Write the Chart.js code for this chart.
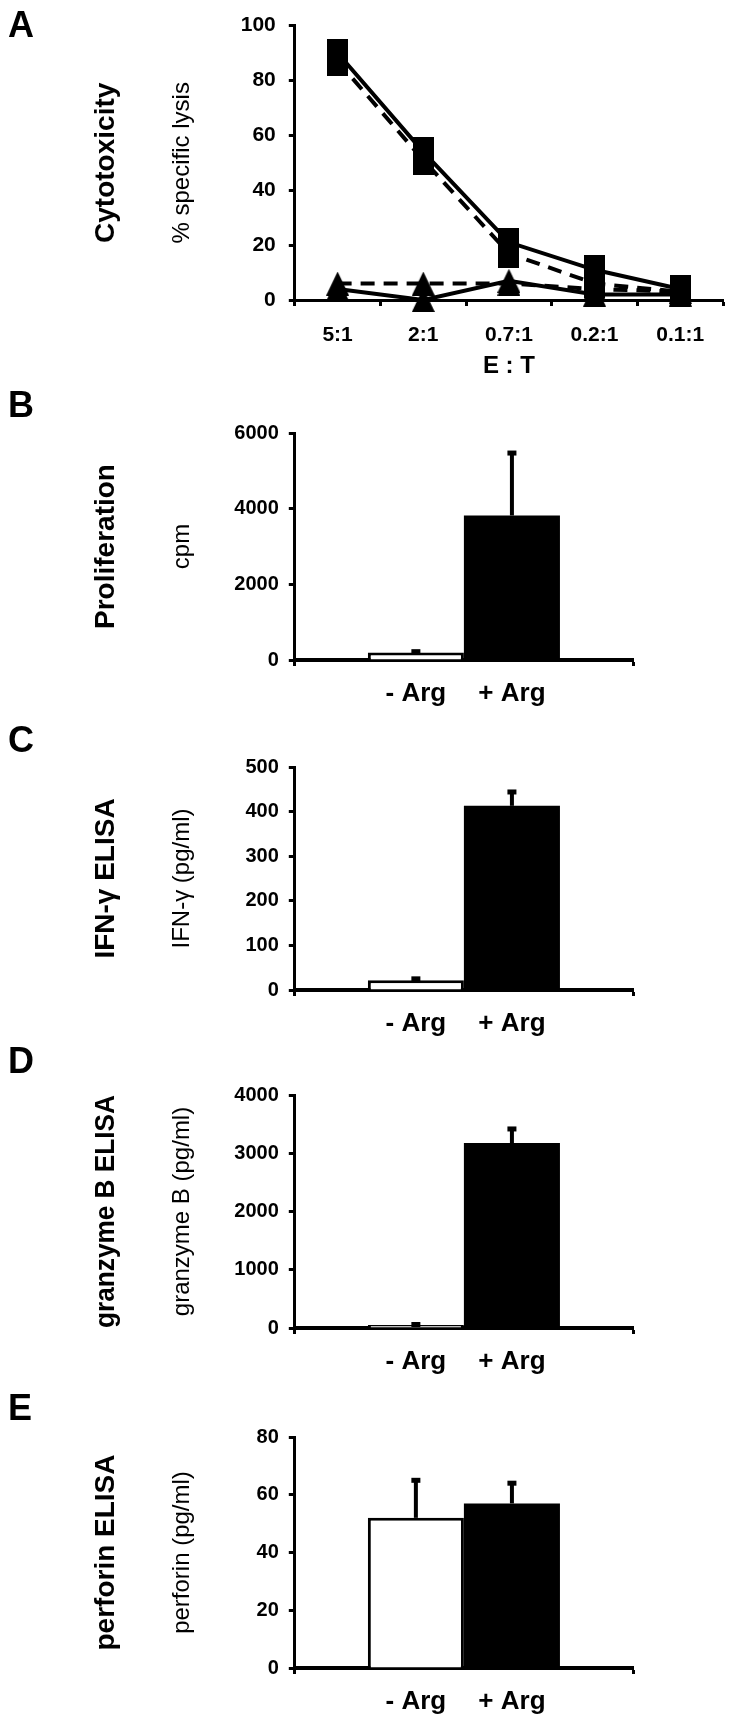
<!DOCTYPE html>
<html>
<head>
<meta charset="utf-8">
<script src="https://cdn.jsdelivr.net/npm/chart.js@4.4.1/dist/chart.umd.min.js"></script>
<style>
  html, body { margin: 0; padding: 0; background: #fff; }
  #fig { position: relative; width: 737px; height: 1725px; overflow: hidden; font-family: "Liberation Sans", Arial, sans-serif; }
  .panel { position: absolute; left: 0; width: 737px; }
  .letter { position: absolute; left: 8px; font-weight: bold; font-size: 36px; line-height: 36px; color: #000; }
</style>
</head>
<body>
<div id="fig">
  <div class="panel" style="top:0px;height:395px"><canvas id="cA"></canvas></div>
  <div class="panel" style="top:411px;height:304px"><canvas id="cB"></canvas></div>
  <div class="panel" style="top:745px;height:300px"><canvas id="cC"></canvas></div>
  <div class="panel" style="top:1073px;height:310px"><canvas id="cD"></canvas></div>
  <div class="panel" style="top:1415px;height:308px"><canvas id="cE"></canvas></div>
  <div class="letter" style="top:7px">A</div>
  <div class="letter" style="top:387px">B</div>
  <div class="letter" style="top:722px">C</div>
  <div class="letter" style="top:1043px">D</div>
  <div class="letter" style="top:1390px">E</div>
</div>
<script>
// ---- data ----
const ratioLabels = ["5:1", "2:1", "0.7:1", "0.2:1", "0.1:1"];
const lysisSolidSquare = [90, 54, 21, 11, 4];
const lysisDashedSquare = [87, 51, 17, 6, 3];
const lysisSolidTriangle = [4, 0, 7, 2, 2];
const lysisDashedTriangle = [6, 6, 6, 4, 3];

const argLabels = ["- Arg", "+ Arg"];
const prolifMean = [200, 3820];
const prolifErr = [20, 1650];
const ifngMean = [22, 413];
const ifngErr = [3, 31];
const grzMean = [50, 3175];
const grzErr = [10, 242];
const perfMean = [52, 57];
const perfErr = [13, 7];

Chart.defaults.font.family = '"Liberation Sans", Arial, sans-serif';
Chart.defaults.color = "#000";
Chart.defaults.animation = false;

// marker images (the originals are a bit taller than wide)
function squareMarker() {
  var c = document.createElement("canvas");
  c.width = 21; c.height = 29;
  var g = c.getContext("2d");
  g.fillStyle = "#000";
  g.fillRect(0, 0, 21, 29);
  return c;
}
function triangleMarker() {
  var c = document.createElement("canvas");
  c.width = 23; c.height = 24;
  var g = c.getContext("2d");
  g.fillStyle = "#000";
  g.beginPath();
  g.moveTo(11.5, 0); g.lineTo(23, 24); g.lineTo(0, 24);
  g.closePath(); g.fill();
  return c;
}
var sq = squareMarker();
var tri = triangleMarker();

// plain numbers, no thousands separator
function plainTick(v) { return String(v); }

function titleOpts(text) {
  return {
    display: true, position: "left", fullSize: false, text: text, color: "#000",
    font: { size: 28, weight: "bold" }, padding: { top: 89, bottom: 10 }
  };
}

function lineSet(data, marker, dashed) {
  return {
    data: data,
    borderColor: "#000",
    backgroundColor: "#000",
    borderWidth: 4,
    borderDash: dashed ? [14, 9] : [],
    tension: 0,
    pointStyle: marker,
    pointRadius: 10,
    clip: false
  };
}

// ---- panel A ----
new Chart(document.getElementById("cA"), {
  type: "line",
  data: {
    labels: ratioLabels,
    datasets: [
      lineSet(lysisDashedTriangle, tri, true),
      lineSet(lysisSolidTriangle, tri, false),
      lineSet(lysisDashedSquare, sq, true),
      lineSet(lysisSolidSquare, sq, false)
    ]
  },
  options: {
    responsive: true,
    maintainAspectRatio: false,
    layout: { padding: { top: 20, right: 7, bottom: 0, left: 0 } },
    plugins: {
      legend: { display: false },
      tooltip: { enabled: false },
      title: titleOpts("Cytotoxicity")
    },
    scales: {
      x: {
        offset: true,
        grid: { offset: true, drawOnChartArea: false, color: "#000", tickLength: 6, tickWidth: 3 },
        border: { color: "#000", width: 3 },
        ticks: { font: { size: 21, weight: "bold" }, padding: 17, maxRotation: 0 },
        title: { display: true, text: "E : T", font: { size: 24, weight: "bold" }, padding: { top: 0, bottom: 14 } },
        afterFit: function (s) { s.height = 95; }
      },
      y: {
        min: 0, max: 100,
        ticks: { stepSize: 20, font: { size: 21, weight: "bold" }, padding: 13, callback: plainTick },
        grid: { drawOnChartArea: false, color: "#000", tickLength: 6, tickWidth: 3 },
        border: { color: "#000", width: 3 },
        title: { display: true, text: "% specific lysis", font: { size: 24 }, padding: { top: 35, bottom: 0 } },
        afterFit: function (s) { s.width = 162.2; }
      }
    }
  }
});

// ---- bar panels ----
var errorBars = {
  id: "errorBars",
  afterDatasetsDraw: function (chart, args, opts) {
    var ctx = chart.ctx, y = chart.scales.y;
    ctx.save();
    ctx.fillStyle = "#000";
    ctx.strokeStyle = "#000";
    ctx.lineWidth = 4;
    chart.data.datasets.forEach(function (ds, i) {
      var bar = chart.getDatasetMeta(i).data[0];
      var top = y.getPixelForValue(ds.data[0] + opts.errors[i]);
      ctx.beginPath();
      ctx.moveTo(bar.x, bar.y);
      ctx.lineTo(bar.x, top);
      ctx.stroke();
      ctx.fillRect(bar.x - 4.5, top - 2.5, 9, 5);
    });
    ctx.restore();
  }
};

var barLabels = {
  id: "barLabels",
  afterDraw: function (chart) {
    var ctx = chart.ctx, y = chart.scales.y;
    ctx.save();
    ctx.fillStyle = "#000";
    ctx.font = 'bold 26px "Liberation Sans", Arial, sans-serif';
    ctx.textAlign = "center";
    ctx.textBaseline = "alphabetic";
    chart.data.datasets.forEach(function (ds, i) {
      var bar = chart.getDatasetMeta(i).data[0];
      ctx.fillText(ds.label, bar.x, y.getPixelForValue(0) + 41);
    });
    ctx.restore();
  }
};

function barChart(id, title, yTitle, means, errs, max, step) {
  new Chart(document.getElementById(id), {
    type: "bar",
    data: {
      labels: [""],
      datasets: [
        { label: argLabels[0], data: [means[0]], backgroundColor: "#fff", borderColor: "#000", borderWidth: 3,
          barPercentage: 1, categoryPercentage: 0.568 },
        { label: argLabels[1], data: [means[1]], backgroundColor: "#000", borderColor: "#000", borderWidth: 0,
          barPercentage: 1, categoryPercentage: 0.568 }
      ]
    },
    options: {
      responsive: true,
      maintainAspectRatio: false,
      layout: { padding: { top: 20, right: 104, bottom: 0, left: 0 } },
      plugins: {
        legend: { display: false },
        tooltip: { enabled: false },
        title: titleOpts(title),
        errorBars: { errors: errs }
      },
      scales: {
        x: {
          z: 1,
          grid: { offset: true, drawOnChartArea: false, color: "#000", tickLength: 6, tickWidth: 3 },
          border: { color: "#000", width: 4 },
          ticks: { display: false },
          afterFit: function (s) { s.height = 55; }
        },
        y: {
          min: 0, max: max,
          ticks: { stepSize: step, font: { size: 20, weight: "bold" }, padding: 10, callback: plainTick },
          grid: { drawOnChartArea: false, color: "#000", tickLength: 6, tickWidth: 3 },
          border: { color: "#000", width: 3 },
          title: { display: true, text: yTitle, font: { size: 24 }, padding: { top: 35, bottom: 0 } },
          afterFit: function (s) { s.width = 162.2; }
        }
      }
    },
    plugins: [errorBars, barLabels]
  });
}

barChart("cB", "Proliferation", "cpm", prolifMean, prolifErr, 6000, 2000);
barChart("cC", "IFN-\u03b3 ELISA", "IFN-\u03b3 (pg/ml)", ifngMean, ifngErr, 500, 100);
barChart("cD", "granzyme B ELISA", "granzyme B (pg/ml)", grzMean, grzErr, 4000, 1000);
barChart("cE", "perforin ELISA", "perforin (pg/ml)", perfMean, perfErr, 80, 20);
</script>
</body>
</html>
